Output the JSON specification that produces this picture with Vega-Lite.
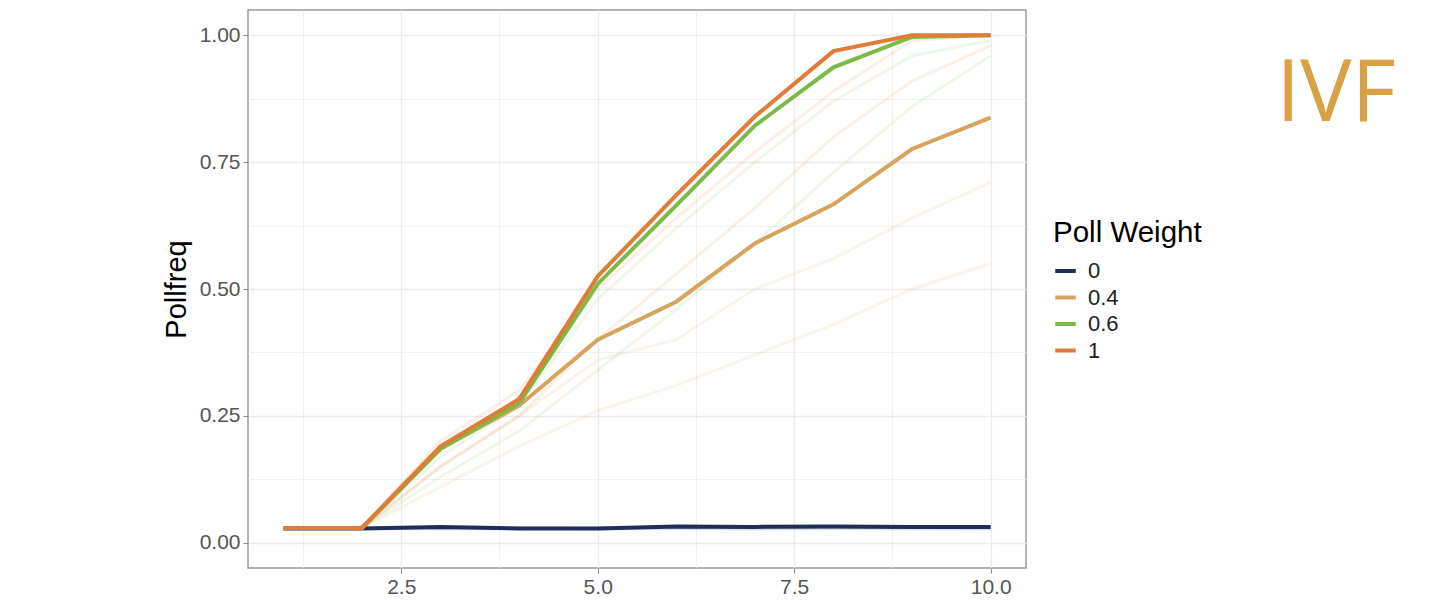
{
  "$schema": "https://vega.github.io/schema/vega-lite/v6.json",
  "autosize": "none",
  "width": 778,
  "height": 558,
  "padding": {"left": 248, "top": 10, "right": 414, "bottom": 32},
  "background": "#ffffff",
  "title": {
    "text": "IVF",
    "orient": "top",
    "anchor": "end",
    "frame": "group",
    "align": "right",
    "baseline": "top",
    "dx": 370,
    "dy": 133,
    "font": "Open Sans",
    "fontSize": 86,
    "fontWeight": "normal",
    "color": "#D9A044"
  },
  "config": {
    "font": "Liberation Sans",
    "view": {"stroke": "#9a9a9a", "strokeWidth": 1.5}
  },
  "datasets": {
    "poll": [
      {"tool": "IVF", "weight": "0", "x": 1, "y": 0.028},
      {"tool": "IVF", "weight": "0", "x": 2, "y": 0.028},
      {"tool": "IVF", "weight": "0", "x": 3, "y": 0.031},
      {"tool": "IVF", "weight": "0", "x": 4, "y": 0.028},
      {"tool": "IVF", "weight": "0", "x": 5, "y": 0.028},
      {"tool": "IVF", "weight": "0", "x": 6, "y": 0.032},
      {"tool": "IVF", "weight": "0", "x": 7, "y": 0.031},
      {"tool": "IVF", "weight": "0", "x": 8, "y": 0.032},
      {"tool": "IVF", "weight": "0", "x": 9, "y": 0.031},
      {"tool": "IVF", "weight": "0", "x": 10, "y": 0.031},
      {"tool": "IVF", "weight": "0.4", "x": 1, "y": 0.029},
      {"tool": "IVF", "weight": "0.4", "x": 2, "y": 0.029},
      {"tool": "IVF", "weight": "0.4", "x": 3, "y": 0.185},
      {"tool": "IVF", "weight": "0.4", "x": 4, "y": 0.27},
      {"tool": "IVF", "weight": "0.4", "x": 5, "y": 0.40},
      {"tool": "IVF", "weight": "0.4", "x": 6, "y": 0.475},
      {"tool": "IVF", "weight": "0.4", "x": 7, "y": 0.59},
      {"tool": "IVF", "weight": "0.4", "x": 8, "y": 0.667},
      {"tool": "IVF", "weight": "0.4", "x": 9, "y": 0.776},
      {"tool": "IVF", "weight": "0.4", "x": 10, "y": 0.838},
      {"tool": "IVF", "weight": "0.6", "x": 1, "y": 0.029},
      {"tool": "IVF", "weight": "0.6", "x": 2, "y": 0.029},
      {"tool": "IVF", "weight": "0.6", "x": 3, "y": 0.185},
      {"tool": "IVF", "weight": "0.6", "x": 4, "y": 0.275},
      {"tool": "IVF", "weight": "0.6", "x": 5, "y": 0.51},
      {"tool": "IVF", "weight": "0.6", "x": 6, "y": 0.665},
      {"tool": "IVF", "weight": "0.6", "x": 7, "y": 0.822},
      {"tool": "IVF", "weight": "0.6", "x": 8, "y": 0.937},
      {"tool": "IVF", "weight": "0.6", "x": 9, "y": 0.997},
      {"tool": "IVF", "weight": "0.6", "x": 10, "y": 1.0},
      {"tool": "IVF", "weight": "1", "x": 1, "y": 0.029},
      {"tool": "IVF", "weight": "1", "x": 2, "y": 0.029},
      {"tool": "IVF", "weight": "1", "x": 3, "y": 0.19},
      {"tool": "IVF", "weight": "1", "x": 4, "y": 0.283},
      {"tool": "IVF", "weight": "1", "x": 5, "y": 0.525},
      {"tool": "IVF", "weight": "1", "x": 6, "y": 0.685},
      {"tool": "IVF", "weight": "1", "x": 7, "y": 0.84},
      {"tool": "IVF", "weight": "1", "x": 8, "y": 0.969},
      {"tool": "IVF", "weight": "1", "x": 9, "y": 1.0},
      {"tool": "IVF", "weight": "1", "x": 10, "y": 1.0},

      {"tool": "A", "weight": "0", "x": 1, "y": 0.028},
      {"tool": "A", "weight": "0", "x": 2, "y": 0.028},
      {"tool": "A", "weight": "0", "x": 3, "y": 0.027},
      {"tool": "A", "weight": "0", "x": 4, "y": 0.028},
      {"tool": "A", "weight": "0", "x": 5, "y": 0.027},
      {"tool": "A", "weight": "0", "x": 6, "y": 0.028},
      {"tool": "A", "weight": "0", "x": 7, "y": 0.027},
      {"tool": "A", "weight": "0", "x": 8, "y": 0.028},
      {"tool": "A", "weight": "0", "x": 9, "y": 0.027},
      {"tool": "A", "weight": "0", "x": 10, "y": 0.027},
      {"tool": "A", "weight": "0.4", "x": 1, "y": 0.029},
      {"tool": "A", "weight": "0.4", "x": 2, "y": 0.029},
      {"tool": "A", "weight": "0.4", "x": 3, "y": 0.15},
      {"tool": "A", "weight": "0.4", "x": 4, "y": 0.25},
      {"tool": "A", "weight": "0.4", "x": 5, "y": 0.36},
      {"tool": "A", "weight": "0.4", "x": 6, "y": 0.40},
      {"tool": "A", "weight": "0.4", "x": 7, "y": 0.50},
      {"tool": "A", "weight": "0.4", "x": 8, "y": 0.56},
      {"tool": "A", "weight": "0.4", "x": 9, "y": 0.64},
      {"tool": "A", "weight": "0.4", "x": 10, "y": 0.71},
      {"tool": "A", "weight": "0.6", "x": 1, "y": 0.029},
      {"tool": "A", "weight": "0.6", "x": 2, "y": 0.029},
      {"tool": "A", "weight": "0.6", "x": 3, "y": 0.17},
      {"tool": "A", "weight": "0.6", "x": 4, "y": 0.27},
      {"tool": "A", "weight": "0.6", "x": 5, "y": 0.48},
      {"tool": "A", "weight": "0.6", "x": 6, "y": 0.62},
      {"tool": "A", "weight": "0.6", "x": 7, "y": 0.75},
      {"tool": "A", "weight": "0.6", "x": 8, "y": 0.87},
      {"tool": "A", "weight": "0.6", "x": 9, "y": 0.96},
      {"tool": "A", "weight": "0.6", "x": 10, "y": 0.99},
      {"tool": "A", "weight": "1", "x": 1, "y": 0.029},
      {"tool": "A", "weight": "1", "x": 2, "y": 0.029},
      {"tool": "A", "weight": "1", "x": 3, "y": 0.20},
      {"tool": "A", "weight": "1", "x": 4, "y": 0.30},
      {"tool": "A", "weight": "1", "x": 5, "y": 0.50},
      {"tool": "A", "weight": "1", "x": 6, "y": 0.64},
      {"tool": "A", "weight": "1", "x": 7, "y": 0.77},
      {"tool": "A", "weight": "1", "x": 8, "y": 0.89},
      {"tool": "A", "weight": "1", "x": 9, "y": 0.99},
      {"tool": "A", "weight": "1", "x": 10, "y": 1.0},

      {"tool": "B", "weight": "0", "x": 1, "y": 0.029},
      {"tool": "B", "weight": "0", "x": 2, "y": 0.029},
      {"tool": "B", "weight": "0", "x": 3, "y": 0.029},
      {"tool": "B", "weight": "0", "x": 4, "y": 0.030},
      {"tool": "B", "weight": "0", "x": 5, "y": 0.029},
      {"tool": "B", "weight": "0", "x": 6, "y": 0.030},
      {"tool": "B", "weight": "0", "x": 7, "y": 0.029},
      {"tool": "B", "weight": "0", "x": 8, "y": 0.029},
      {"tool": "B", "weight": "0", "x": 9, "y": 0.030},
      {"tool": "B", "weight": "0", "x": 10, "y": 0.029},
      {"tool": "B", "weight": "0.4", "x": 1, "y": 0.029},
      {"tool": "B", "weight": "0.4", "x": 2, "y": 0.029},
      {"tool": "B", "weight": "0.4", "x": 3, "y": 0.11},
      {"tool": "B", "weight": "0.4", "x": 4, "y": 0.19},
      {"tool": "B", "weight": "0.4", "x": 5, "y": 0.26},
      {"tool": "B", "weight": "0.4", "x": 6, "y": 0.31},
      {"tool": "B", "weight": "0.4", "x": 7, "y": 0.37},
      {"tool": "B", "weight": "0.4", "x": 8, "y": 0.43},
      {"tool": "B", "weight": "0.4", "x": 9, "y": 0.50},
      {"tool": "B", "weight": "0.4", "x": 10, "y": 0.55},
      {"tool": "B", "weight": "0.6", "x": 1, "y": 0.029},
      {"tool": "B", "weight": "0.6", "x": 2, "y": 0.029},
      {"tool": "B", "weight": "0.6", "x": 3, "y": 0.13},
      {"tool": "B", "weight": "0.6", "x": 4, "y": 0.22},
      {"tool": "B", "weight": "0.6", "x": 5, "y": 0.34},
      {"tool": "B", "weight": "0.6", "x": 6, "y": 0.46},
      {"tool": "B", "weight": "0.6", "x": 7, "y": 0.59},
      {"tool": "B", "weight": "0.6", "x": 8, "y": 0.73},
      {"tool": "B", "weight": "0.6", "x": 9, "y": 0.86},
      {"tool": "B", "weight": "0.6", "x": 10, "y": 0.96},
      {"tool": "B", "weight": "1", "x": 1, "y": 0.029},
      {"tool": "B", "weight": "1", "x": 2, "y": 0.029},
      {"tool": "B", "weight": "1", "x": 3, "y": 0.15},
      {"tool": "B", "weight": "1", "x": 4, "y": 0.25},
      {"tool": "B", "weight": "1", "x": 5, "y": 0.40},
      {"tool": "B", "weight": "1", "x": 6, "y": 0.53},
      {"tool": "B", "weight": "1", "x": 7, "y": 0.66},
      {"tool": "B", "weight": "1", "x": 8, "y": 0.80},
      {"tool": "B", "weight": "1", "x": 9, "y": 0.91},
      {"tool": "B", "weight": "1", "x": 10, "y": 0.98}
    ]
  },
  "data": {"name": "poll"},
  "encoding": {
    "x": {
      "field": "x",
      "type": "quantitative",
      "scale": {"domain": [0.55, 10.45], "nice": false, "zero": false},
      "axis": {
        "title": null,
        "values": [1.25, 2.5, 3.75, 5, 6.25, 7.5, 8.75, 10],
        "labelExpr": "datum.value % 2.5 == 0 ? format(datum.value, '.1f') : ''",
        "labelFont": "Liberation Sans",
        "labelFontSize": 21,
        "labelColor": "#555555",
        "labelPadding": 3,
        "domain": false,
        "ticks": true,
        "tickSize": 5,
        "tickColor": "#8a8a8a",
        "tickOpacity": {"condition": {"test": "datum.value % 2.5 != 0", "value": 0}, "value": 1},
        "grid": true,
        "gridColor": "#ebebeb",
        "gridWidth": {"condition": {"test": "datum.value % 2.5 != 0", "value": 0.7}, "value": 1.3}
      }
    },
    "y": {
      "field": "y",
      "type": "quantitative",
      "scale": {"domain": [-0.05, 1.05], "nice": false, "zero": false},
      "axis": {
        "title": "Pollfreq",
        "titleFont": "Liberation Sans",
        "titleFontSize": 29,
        "titleFontWeight": "normal",
        "titleColor": "#000000",
        "titlePadding": 8,
        "values": [0, 0.125, 0.25, 0.375, 0.5, 0.625, 0.75, 0.875, 1],
        "labelExpr": "datum.value * 4 == round(datum.value * 4) ? format(datum.value, '.2f') : ''",
        "labelFont": "Liberation Sans",
        "labelFontSize": 21,
        "labelColor": "#555555",
        "labelPadding": 3,
        "domain": false,
        "ticks": true,
        "tickSize": 5,
        "tickColor": "#8a8a8a",
        "tickOpacity": {"condition": {"test": "datum.value * 4 != round(datum.value * 4)", "value": 0}, "value": 1},
        "grid": true,
        "gridColor": "#ebebeb",
        "gridWidth": {"condition": {"test": "datum.value * 4 != round(datum.value * 4)", "value": 0.7}, "value": 1.3}
      }
    },
    "color": {
      "field": "weight",
      "type": "nominal",
      "scale": {
        "domain": ["0", "0.4", "0.6", "1"],
        "range": ["#1f2d5a", "#d6a55c", "#7cba48", "#e07c35"]
      },
      "legend": {
        "title": "Poll Weight",
        "orient": "none",
        "legendX": 805,
        "legendY": 209,
        "titleFont": "Liberation Sans",
        "titleFontSize": 29.5,
        "titleFontWeight": "normal",
        "titleColor": "#000000",
        "titlePadding": 10,
        "labelFont": "Liberation Sans",
        "labelFontSize": 22,
        "labelColor": "#222222",
        "labelOffset": 10,
        "symbolType": "stroke",
        "symbolStrokeWidth": 4,
        "symbolSize": 420,
        "symbolOpacity": 1,
        "rowPadding": 2.5
      }
    },
    "detail": {"field": "tool"}
  },
  "layer": [
    {
      "transform": [{"filter": "datum.tool != 'IVF'"}],
      "mark": {"type": "line", "strokeWidth": 3, "opacity": 0.12, "clip": true}
    },
    {
      "transform": [{"filter": "datum.tool == 'IVF'"}],
      "mark": {"type": "line", "strokeWidth": 4, "clip": true}
    }
  ]
}
